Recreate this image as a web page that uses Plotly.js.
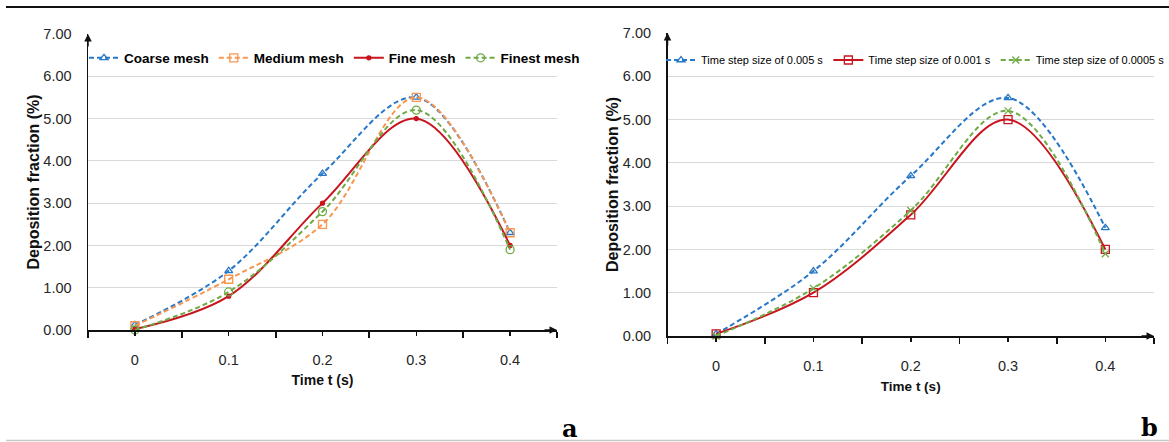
<!DOCTYPE html>
<html><head><meta charset="utf-8">
<script src="https://cdn.plot.ly/plotly-3.0.1.min.js"></script>
<style>
html,body{margin:0;padding:0;background:#fff}
#chart{width:1169px;height:442px}
</style>
</head><body><div id="chart"></div>
<script>
// ---- data ----
const timeCats = [0, 0.1, 0.2, 0.3, 0.4];
const timeLabels = ["0", "0.1", "0.2", "0.3", "0.4"];
const catBounds = [-0.05, 0.05, 0.15, 0.25, 0.35, 0.45];
const yTicks = [0, 1, 2, 3, 4, 5, 6, 7];

const meshNames = ["Coarse mesh", "Medium mesh", "Fine mesh", "Finest mesh"];
const coarseMesh = [0.12, 1.4, 3.7, 5.5, 2.3];
const mediumMesh = [0.1, 1.2, 2.5, 5.5, 2.3];
const fineMesh = [0.02, 0.8, 3.0, 5.0, 2.0];
const finestMesh = [0.0, 0.9, 2.8, 5.2, 1.9];

const stepNames = ["Time step size of 0.005 s", "Time step size of 0.001 s", "Time step size of 0.0005 s"];
const step0005 = [0.05, 1.5, 3.7, 5.5, 2.5];
const step0001 = [0.05, 1.0, 2.8, 5.0, 2.0];
const step00005 = [0.0, 1.1, 2.9, 5.2, 1.9];

// ---- styles ----
const BLUE = "#2878C8", ORANGE = "#F9964F", RED = "#C8141E", GREEN = "#6EAA46";
const DASH = "5px,3px";

function tr(name, y, color, dash, symbol, msize, xa, ya, leg) {
  return {
    x: timeCats, y: y, name: name, type: "scatter", mode: "lines+markers",
    line: {color: color, width: 2, dash: dash, shape: "spline", smoothing: 1},
    marker: {symbol: symbol, size: msize, color: color, line: {color: color, width: 1.3}},
    xaxis: xa, yaxis: ya, legend: leg, cliponaxis: false
  };
}

const traces = [
  tr(meshNames[0], coarseMesh, BLUE, DASH, "triangle-up-open", 7, "x", "y", "legend"),
  tr(meshNames[1], mediumMesh, ORANGE, DASH, "square-open", 8, "x", "y", "legend"),
  tr(meshNames[2], fineMesh, RED, "solid", "circle", 4, "x", "y", "legend"),
  tr(meshNames[3], finestMesh, GREEN, DASH, "circle-open", 8, "x", "y", "legend"),
  tr(stepNames[0], step0005, BLUE, DASH, "triangle-up-open", 7, "x2", "y2", "legend2"),
  tr(stepNames[1], step0001, RED, "solid", "square-open", 8, "x2", "y2", "legend2"),
  tr(stepNames[2], step00005, GREEN, DASH, "x-thin-open", 7, "x2", "y2", "legend2")
];

const TICKFONT = {family: "Liberation Sans, Arial, sans-serif", size: 14.5, color: "#262626"};
const TITLEFONT = {family: "Liberation Sans, Arial, sans-serif", color: "#111"};

function xAxis(domain, anchor, titleSize) {
  return {
    domain: domain, anchor: anchor, range: [-0.05, 0.45], fixedrange: true,
    tickmode: "array", tickvals: timeCats, ticktext: timeLabels,
    ticks: "outside", ticklen: 4, tickwidth: 1.5, tickcolor: "#111",
    minor: {tickmode: "array", tickvals: catBounds, ticks: "outside", ticklen: 6, tickwidth: 1.8, tickcolor: "#111"},
    ticklabelstandoff: 12,
    showline: true, linecolor: "#111", linewidth: 2, showgrid: false, zeroline: false,
    tickfont: TICKFONT,
    title: {text: "<b>Time t (s)</b>", font: Object.assign({size: titleSize}, TITLEFONT), standoff: 8}
  };
}
function xOver(over, anchor) {
  return {
    overlaying: over, anchor: anchor, range: [-0.05, 0.45], fixedrange: true,
    tickmode: "array", tickvals: timeCats, showticklabels: false,
    ticks: "inside", ticklen: 4, tickwidth: 1.5, tickcolor: "#111",
    minor: {tickmode: "array", tickvals: catBounds, ticks: "inside", ticklen: 6, tickwidth: 1.8, tickcolor: "#111"},
    showline: false, showgrid: false, zeroline: false
  };
}
function yAxis(domain, anchor, titleSize) {
  return {
    domain: domain, anchor: anchor, range: [0, 7], fixedrange: true,
    tickmode: "array", tickvals: yTicks, tickformat: ".2f",
    ticks: "", ticklabelstandoff: 12,
    showline: true, linecolor: "#111", linewidth: 1.5,
    showgrid: true, gridcolor: "#d9d9d9", gridwidth: 1, zeroline: false,
    tickfont: TICKFONT,
    title: {text: "<b>Deposition fraction (%)</b>", font: Object.assign({size: titleSize}, TITLEFONT), standoff: 0}
  };
}

function arrow(xref, yref, x, y, ax, ay) {
  return {xref: xref, yref: yref, x: x, y: y, ax: ax, ay: ay, text: "", showarrow: true,
          arrowhead: 2, arrowsize: 1, arrowwidth: 1.5, arrowcolor: "#111", standoff: 0};
}

const W = 1169, H = 442;
const layout = {
  width: W, height: H,
  margin: {l: 0, r: 0, t: 0, b: 0, autoexpand: false},
  paper_bgcolor: "#fff", plot_bgcolor: "rgba(0,0,0,0)",
  showlegend: true,
  xaxis: xAxis([88 / W, 557 / W], "y", 14),
  yaxis: yAxis([(H - 330) / H, (H - 34) / H], "x", 16),
  xaxis2: xAxis([667.5 / W, 1154 / W], "y2", 13.5),
  yaxis2: yAxis([(H - 336) / H, (H - 33) / H], "x2", 16),
  xaxis3: xOver("x", "y"),
  xaxis4: xOver("x2", "y2"),
  legend: {
    orientation: "h", x: 84 / W, xanchor: "left", y: (H - 58) / H, yanchor: "middle",
    bgcolor: "rgba(0,0,0,0)", font: {family: "Liberation Sans, Arial, sans-serif", size: 13.5, color: "#000", weight: "bold"},
    itemwidth: 30
  },
  legend2: {
    orientation: "h", x: 661 / W, xanchor: "left", y: (H - 60) / H, yanchor: "middle",
    bgcolor: "rgba(0,0,0,0)", font: {family: "Liberation Sans, Arial, sans-serif", size: 11, color: "#000"},
    itemwidth: 30
  },
  shapes: [
    {type: "line", xref: "paper", yref: "paper", x0: 6 / W, x1: 1, y0: (H - 7) / H, y1: (H - 7) / H, line: {color: "#111", width: 2}},
    {type: "line", xref: "paper", yref: "paper", x0: 6 / W, x1: 1, y0: 1.5 / H, y1: 1.5 / H, line: {color: "#c8c8c8", width: 1.5}}
  ],
  annotations: [
    arrow("x", "y", -0.05, 7, 0, 14),
    arrow("x", "y", 0.45, 0, -14, 0),
    arrow("x2", "y2", -0.05, 7, 0, 14),
    arrow("x2", "y2", 0.45, 0, -14, 0),
    {xref: "paper", yref: "paper", x: 570 / W, y: (H - 428) / H, xanchor: "center", yanchor: "middle", showarrow: false,
     text: "<b>a</b>", font: {family: "DejaVu Serif, Liberation Serif, serif", size: 24, color: "#000"}},
    {xref: "paper", yref: "paper", x: 1149 / W, y: (H - 427) / H, xanchor: "center", yanchor: "middle", showarrow: false,
     text: "<b>b</b>", font: {family: "DejaVu Serif, Liberation Serif, serif", size: 24, color: "#000"}}
  ]
};

Plotly.newPlot("chart", traces, layout, {displayModeBar: false, staticPlot: true});
</script></body></html>
